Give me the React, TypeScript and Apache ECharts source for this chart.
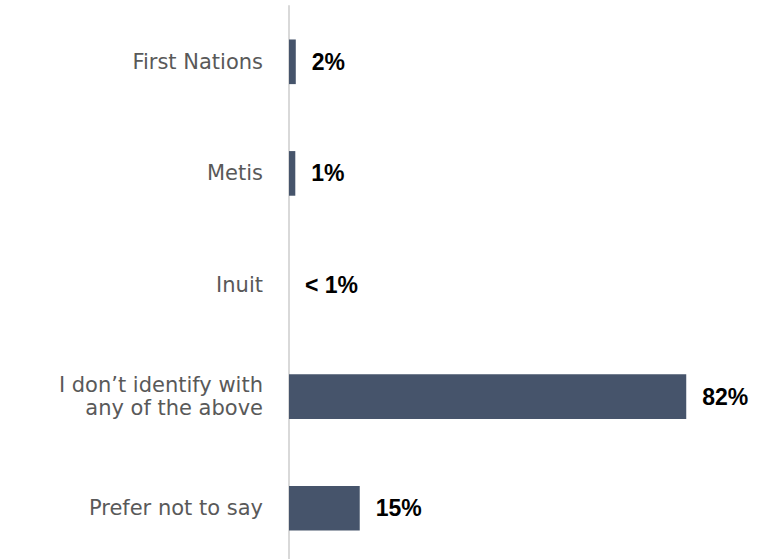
import React, { useEffect, useRef } from "react";
import * as echarts from "echarts";

const categories = [
  "First Nations",
  "Metis",
  "Inuit",
  "I don\u2019t identify with\nany of the above",
  "Prefer not to say",
];
const values = [1.4, 1.3, 0, 82, 14.6];
const valueLabels = ["2%", "1%", "< 1%", "82%", "15%"];

export default function App() {
  const ref = useRef<HTMLDivElement>(null);
  useEffect(() => {
    if (!ref.current) return;
    const chart = echarts.init(ref.current, undefined, { renderer: "svg" });
    chart.setOption({
      animation: false,
      backgroundColor: "#ffffff",
      grid: {
        left: 289,
        width: 436,
        top: 6,
        height: 558,
        containLabel: false,
        outerBoundsMode: "none",
      },
      xAxis: {
        type: "value",
        min: 0,
        max: 90,
        show: false,
      },
      yAxis: {
        type: "category",
        inverse: true,
        data: categories,
        axisLine: { show: true, lineStyle: { color: "#d9d9d9", width: 2 } },
        axisTick: { show: false },
        axisLabel: {
          margin: 26,
          color: "#595959",
          fontSize: 21,
          fontFamily: "DejaVu Sans",
          lineHeight: 23,
          align: "right",
        },
      },
      series: [
        {
          type: "bar",
          data: values,
          barCategoryGap: "60%",
          itemStyle: { color: "#46546b" },
          label: {
            show: true,
            position: "right",
            distance: 16,
            color: "#000000",
            fontWeight: "bold",
            fontSize: 23,
            fontFamily: "Liberation Sans",
            formatter: (p: any) => valueLabels[p.dataIndex],
          },
        },
      ],
    });
    return () => chart.dispose();
  }, []);
  return (
    <div
      ref={ref}
      style={{ position: "absolute", left: 0, top: 0, width: 760, height: 559 }}
    />
  );
}
